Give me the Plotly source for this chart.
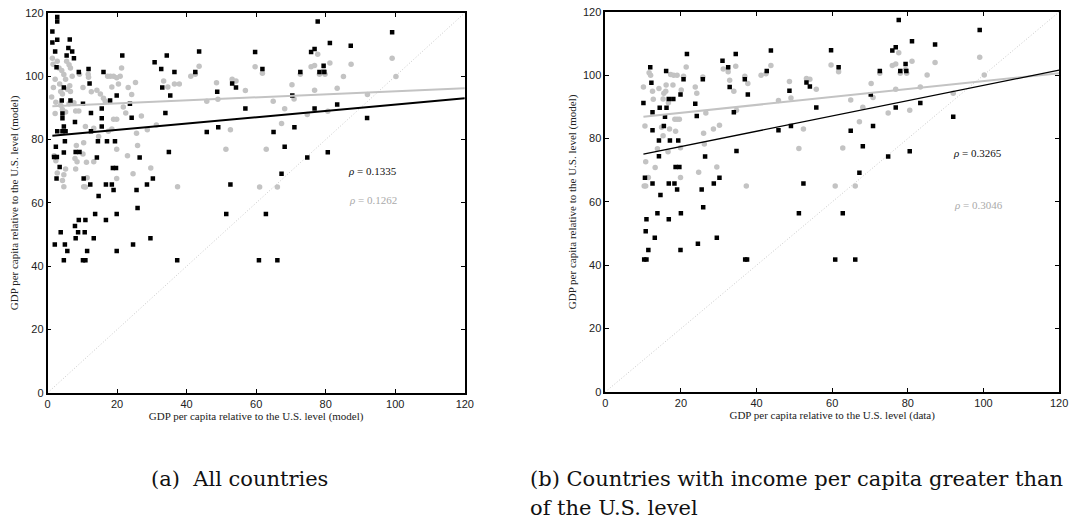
import plotly.graph_objects as go

# ---------------- data ----------------
# Panel (a): all countries
a_black_x = [1.4,2.8,2.8,1.4,2.8,2.2,6.0,6.4,7.1,5.5,7.6,2.6,9.0,11.8,12.1,16.1,21.5,4.7,4.1,6.6,10.2,12.5,4.3,15.6,15.6,18.0,19.9,24.2,23.7,15.6,4.3,2.8,4.3,5.2,4.7,7.9,2.4,1.9,2.7,4.7,8.1,9.2,5.0,14.5,17.1,19.4,14.2,3.5,18.8,19.7,10.4,2.6,12.3,16.8,18.5,19.0,14.7,25.6,28.6,30.3,26.5,34.9,30.8,32.7,34.3,33.0,33.9,35.3,36.5,43.6,42.5,12.5,
             13.7,19.9,16.8,9.0,10.9,7.9,3.8,8.8,10.7,2.1,5.0,8.1,13.3,29.6,24.6,5.7,11.4,19.9,4.7,10.2,10.9,37.3,25.9,
             59.7,61.8,53.1,54.2,48.8,56.9,45.8,49.1,52.6,65.0,71.0,68.2,67.3,74.7,80.6,70.4,72.7,76.8,83.3,91.9,77.7,75.8,76.8,81.2,87.2,79.4,78.2,79.6,99.1,
             51.4,62.8,60.8,66.1]
a_black_y = [114.1,118.7,117.3,110.6,111.5,107.8,108.9,111.6,107.8,106.5,105.7,102.8,101.3,102.3,97.7,101.3,106.5,96.4,92.3,92.3,91.3,88.4,88.2,89.8,86.7,92.3,93.9,86.9,91.3,84.1,86.7,82.6,82.6,82.6,84.1,85.5,77.7,74.5,74.5,75.9,76.1,76.1,79.5,79.5,79.5,79.5,74.3,71.3,71.0,71.0,67.7,67.7,65.8,65.8,65.8,64.1,62.2,64.1,65.8,67.7,74.3,76.1,104.4,102.3,106.5,96.4,88.4,93.9,101.3,107.8,101.3,82.6,
             56.5,56.5,54.6,54.6,54.6,52.7,50.7,50.7,50.7,46.9,46.9,48.8,48.8,48.8,46.9,44.8,44.8,44.8,41.9,41.9,41.9,41.9,58.4,
             107.6,102.3,97.7,96.4,95.1,89.8,82.4,83.9,65.8,82.4,83.9,77.7,69.2,74.3,76.0,93.9,101.3,89.8,91.1,86.8,117.3,107.6,108.6,110.5,109.6,103.3,101.3,101.3,113.9,
             56.5,56.5,41.9,41.9]
a_gray_x = [1.4,1.6,2.8,3.3,5.5,6.2,6.6,4.1,4.7,5.2,2.2,1.7,3.5,3.8,1.2,2.4,3.8,4.3,2.2,5.2,4.3,5.7,6.2,6.4,7.1,6.6,8.1,9.0,7.6,9.2,11.7,11.8,10.2,12.6,14.2,15.2,16.1,16.6,18.5,17.3,18.1,19.0,19.9,20.4,21.3,20.9,23.2,24.2,25.3,19.0,19.9,10.9,13.3,14.7,17.5,18.5,19.9,23.0,25.6,25.9,10.4,8.3,7.9,8.5,10.2,11.2,13.3,8.1,5.2,2.8,4.7,1.9,2.4,4.3,11.4,10.4,4.7,19.9,24.6,29.7,37.4,21.8,22.5,27.0,28.7,31.3,33.4,34.6,36.5,37.9,41.2,42.5,43.6,10.9,
            59.7,61.8,48.6,53.1,54.2,56.9,49.0,45.8,52.6,51.3,62.9,61.0,66.1,64.9,68.2,67.3,70.3,70.9,72.7,74.7,75.8,76.8,77.7,76.8,78.2,79.8,79.4,81.2,80.6,83.3,85.1,87.3,92.0,99.1,100.2]
a_gray_y = [105.7,103.8,104.7,102.6,104.7,103.6,102.6,101.8,100.5,99.0,99.0,96.4,97.5,95.2,93.4,91.8,90.8,89.5,88.2,88.7,94.4,95.9,91.3,97.0,100.0,95.2,89.0,89.0,91.6,100.6,100.6,99.7,96.4,95.1,95.6,94.4,93.0,92.1,96.6,100.0,100.0,100.0,99.5,97.5,102.6,100.0,96.4,94.2,98.0,86.4,86.4,84.1,83.6,81.0,82.6,83.3,76.9,74.9,82.0,78.1,79.0,78.1,74.0,73.0,75.4,72.8,73.0,70.7,70.7,69.4,68.9,74.9,73.3,67.1,67.9,65.1,65.1,67.7,69.2,71.0,65.1,90.3,88.4,87.4,83.1,84.6,98.5,96.6,97.5,97.5,100.0,100.6,103.1,65.0,
            103.0,100.9,97.9,99.0,98.5,95.5,92.7,92.1,83.1,76.9,76.9,65.0,65.0,92.1,89.7,85.1,97.3,92.8,100.6,87.9,103.0,103.4,106.9,95.6,100.6,100.6,101.8,104.2,88.9,96.2,99.9,103.8,94.2,105.7,99.9]

# Panel (b): countries above the income threshold
b_black_x = [11.9,12.2,10.1,12.5,12.5,10.5,12.5,14.2,14.2,14.4,16.2,15.8,15.5,16.1,16.8,18.0,17.1,19.3,19.9,18.6,19.6,16.8,18.3,19.0,14.6,20.7,21.6,23.8,24.2,25.8,26.4,25.5,28.7,30.2,31.0,32.5,32.9,34.0,34.7,34.5,36.9,37.7,42.7,43.8,45.8,48.7,49.1,52.4,
             25.9,13.8,20.0,10.9,16.8,10.7,13.1,29.5,24.5,11.4,19.9,10.3,10.9,37.0,37.5,51.2,
             53.2,54.1,55.8,59.7,61.7,72.6,70.2,76.8,70.8,64.9,68.1,67.2,74.8,80.5,83.3,92.0,77.6,75.9,76.8,81.1,87.2,79.4,78.0,79.6,99.0,
             62.8,60.8,66.1]
b_black_y = [102.5,97.6,91.2,88.3,82.6,67.6,65.8,74.4,79.4,89.7,89.7,86.9,84.0,101.3,92.5,92.5,79.4,79.4,93.9,71.0,71.0,65.8,65.8,63.9,62.2,98.7,106.7,91.0,87.1,98.7,74.3,63.9,65.8,67.6,104.6,102.5,96.3,88.3,76.1,106.7,98.7,93.9,101.3,107.8,82.6,95.1,84.0,65.8,
             58.3,56.4,56.4,54.5,54.5,50.7,48.7,48.7,46.8,44.8,44.8,41.8,41.8,41.8,41.8,56.4,
             97.7,96.4,89.8,107.9,102.5,101.3,93.9,89.8,84.0,82.5,77.6,69.2,74.3,76.0,91.2,86.9,117.4,107.8,108.8,110.7,109.7,103.5,101.3,101.3,114.3,
             56.4,41.8,41.8]
b_gray_x = [10.1,10.5,10.7,10.3,10.7,11.4,11.6,12.0,12.5,12.7,13.2,13.8,14.2,14.9,15.3,15.3,15.5,16.0,16.1,16.7,17.0,17.3,18.1,19.0,17.9,18.4,19.0,19.6,18.6,16.6,19.9,19.9,20.1,20.7,21.4,23.8,24.2,24.7,25.8,26.0,26.2,26.6,28.6,29.5,30.2,31.2,32.5,32.9,34.0,34.5,34.7,36.9,37.7,37.3,41.2,42.5,43.8,45.8,48.7,49.1,51.2,52.4,
            53.2,54.1,55.8,59.7,61.7,60.8,66.1,62.8,64.9,68.1,67.2,70.3,70.8,72.6,74.8,75.9,76.8,77.6,76.8,78.0,79.7,79.4,81.1,80.5,83.3,85.1,87.2,92.0,99.0,100.2]
b_gray_y = [96.3,84.0,72.7,65.0,65.0,67.7,100.8,100.0,94.9,92.4,70.9,76.8,95.8,83.6,80.9,92.5,94.3,94.9,96.9,91.3,83.0,100.2,100.0,100.0,96.9,86.1,86.1,86.1,82.3,75.8,77.1,67.7,95.3,99.7,102.6,96.3,94.3,69.4,99.4,81.7,78.3,88.1,83.0,71.0,84.2,102.0,101.1,98.4,94.9,102.8,88.9,99.7,97.4,65.0,100.0,100.5,103.1,92.0,98.0,92.8,76.9,83.0,
            99.0,98.7,95.6,103.2,101.1,65.0,65.0,77.0,92.2,89.9,85.3,97.4,93.0,100.6,88.1,103.1,103.5,107.1,95.6,100.6,100.6,101.8,104.4,88.9,96.3,100.1,104.0,94.3,105.7,100.1]

# fitted lines (end points)
a_fit_x = [1.4, 120]
a_fit_black = [81.2, 93.0]
a_fit_gray = [90.5, 96.2]
b_fit_x = [10.1, 120]
b_fit_black = [75.1, 101.6]
b_fit_gray = [86.9, 100.6]
diag = [0, 120]

a_rho = ["0.1335", "0.1262"]
b_rho = ["0.3265", "0.3046"]
ticks = [0, 20, 40, 60, 80, 100, 120]
x_titles = ["GDP per capita relative to the U.S. level (model)",
            "GDP per capita relative to the U.S. level (data)"]
y_title = "GDP per capita relative to the U.S. level (model)"
captions = ["(a)  All countries",
            "(b) Countries with income per capita greater than",
            "of the U.S. level"]

GRAY = "#c3c3c3"
SERIF = "Liberation Serif"
CAPSERIF = "DejaVu Serif"
SANS = "Liberation Sans"

fig = go.Figure()

def add_panel(xa, ya, bx, by, gx, gy, fx, fb, fg, bw):
    fig.add_trace(go.Scatter(x=diag, y=diag, mode="lines", xaxis=xa, yaxis=ya,
                             line=dict(color="#c8c8c8", width=1, dash="1px,2px"), hoverinfo="skip"))
    fig.add_trace(go.Scatter(x=gx, y=gy, mode="markers", xaxis=xa, yaxis=ya,
                             marker=dict(symbol="circle", size=5.5, color=GRAY, line=dict(width=0))))
    fig.add_trace(go.Scatter(x=bx, y=by, mode="markers", xaxis=xa, yaxis=ya,
                             marker=dict(symbol="square", size=4.5, color="black", line=dict(width=0))))
    fig.add_trace(go.Scatter(x=fx, y=fg, mode="lines", xaxis=xa, yaxis=ya,
                             line=dict(color=GRAY, width=2)))
    fig.add_trace(go.Scatter(x=fx, y=fb, mode="lines", xaxis=xa, yaxis=ya,
                             line=dict(color="black", width=bw)))

add_panel("x", "y", a_black_x, a_black_y, a_gray_x, a_gray_y, a_fit_x, a_fit_black, a_fit_gray, 2)
add_panel("x2", "y2", b_black_x, b_black_y, b_gray_x, b_gray_y, b_fit_x, b_fit_black, b_fit_gray, 1.3)

axis_common = dict(range=[0, 120], tickvals=ticks, showline=True, linecolor="black", linewidth=1.5,
                   mirror="ticks", ticks="inside", ticklen=4, tickwidth=1, tickcolor="black",
                   showgrid=False, zeroline=False, tickfont=dict(family=SANS, size=11, color="#222"),
                   fixedrange=True)

title_font = dict(family=SERIF, size=11, color="#222")

fig.update_layout(
    width=1080, height=525, margin=dict(l=0, r=0, t=0, b=0),
    paper_bgcolor="white", plot_bgcolor="white", showlegend=False,
    xaxis=dict(domain=[45/1080, 467/1080], anchor="y",
               title=dict(text=x_titles[0], font=title_font, standoff=2), **axis_common),
    yaxis=dict(domain=[(525-396)/525, (525-7)/525], anchor="x",
               title=dict(text=y_title, font=title_font, standoff=4), **axis_common),
    xaxis2=dict(domain=[609/1080, 1068/1080], anchor="y2",
                title=dict(text=x_titles[1], font=title_font, standoff=2), **axis_common),
    yaxis2=dict(domain=[(525-395)/525, (525-6)/525], anchor="x2",
                title=dict(text=y_title, font=title_font, standoff=4), **axis_common),
)

def rho(xref, yref, x, y, val, color):
    fig.add_annotation(x=x, y=y, xref=xref, yref=yref, text="<i>ρ</i> = " + val, showarrow=False,
                       font=dict(family=SERIF, size=11, color=color))

rho("x", "y", 93.5, 70.0, a_rho[0], "#111")
rho("x", "y", 93.5, 60.8, a_rho[1], "#aaaaaa")
rho("x2", "y2", 98.3, 75.6, b_rho[0], "#111")
rho("x2", "y2", 98.8, 58.9, b_rho[1], "#aaaaaa")

cap_font = dict(family=CAPSERIF, size=21, color="#111")
fig.add_annotation(x=148/1080, y=(525-484)/525, xref="paper", yref="paper", xanchor="left", yanchor="middle",
                   text=captions[0], showarrow=False, font=cap_font)
fig.add_annotation(x=531/1080, y=(525-484)/525, xref="paper", yref="paper", xanchor="left", yanchor="middle",
                   text=captions[1], showarrow=False, font=cap_font)
fig.add_annotation(x=531/1080, y=(525-514)/525, xref="paper", yref="paper", xanchor="left", yanchor="middle",
                   text=captions[2], showarrow=False, font=cap_font)

fig.write_html("out.html")
